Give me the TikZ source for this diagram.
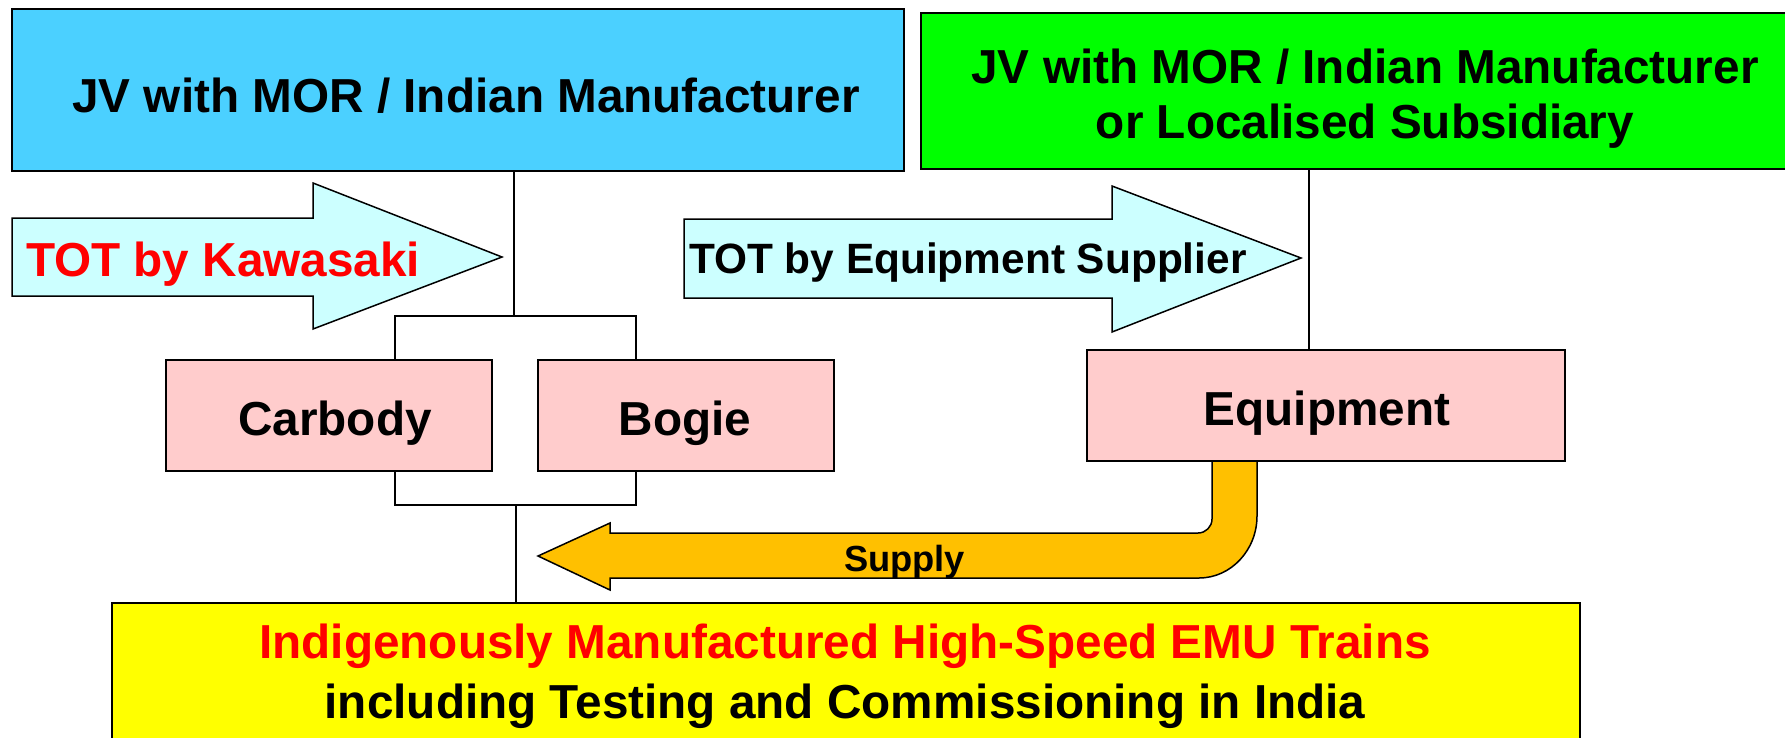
\documentclass[tikz,border=0pt]{standalone}
\usepackage{fontspec}
\setmainfont{Liberation Sans}
\definecolor{jvblue}{RGB}{75,208,255}
\definecolor{jvgreen}{RGB}{0,255,0}
\definecolor{arrowcyan}{RGB}{204,255,255}
\definecolor{partpink}{RGB}{255,204,204}
\definecolor{trainyellow}{RGB}{255,255,0}
\definecolor{supplyorange}{RGB}{255,192,0}
\definecolor{textred}{RGB}{255,0,0}
\begin{document}
\begin{tikzpicture}[x=1pt,y=-1pt,
  box/.style={draw=black, line width=1.8pt, inner sep=0pt, outer sep=0pt, anchor=north west},
  lbl/.style={inner sep=0pt, outer sep=0pt, anchor=base, font=\bfseries\fontsize{47.7}{57}\selectfont},
  conn/.style={line width=1.5pt},
  bracket/.style={line width=2.2pt},
  blockarrow/.style={draw=black, line width=1.5pt, line join=miter}]
\useasboundingbox (0,0) rectangle (1785,737);
\clip (0,0) rectangle (1785,737);
\fill[white] (0,0) rectangle (1785,737);
% boxes
\node[box, fill=jvblue, minimum width=892pt, minimum height=162pt] (jvA) at (12,9) {};
\node[box, fill=jvgreen, minimum width=888pt, minimum height=156pt] (jvB) at (921,13) {};
\node[box, fill=partpink, minimum width=326pt, minimum height=111pt] (carbody) at (166,360) {};
\node[box, fill=partpink, minimum width=296pt, minimum height=111pt] (bogie) at (538,360) {};
\node[box, fill=partpink, minimum width=478pt, minimum height=111pt] (equip) at (1087,350) {};
\node[box, fill=trainyellow, minimum width=1468pt, minimum height=160pt] (train) at (112,603) {};
% block arrows
\draw[blockarrow, fill=arrowcyan] (12,218) -- (313,218) -- (313,183) -- (502,257) -- (313,329) -- (313,296) -- (12,296) -- cycle;
\draw[blockarrow, fill=arrowcyan] (684,219) -- (1112,219) -- (1112,186) -- (1301,258) -- (1112,332) -- (1112,298) -- (684,298) -- cycle;
\draw[blockarrow, fill=supplyorange] (538,556) -- (610,523) -- (610,533) -- (1198,533)
  .. controls (1205.7,533) and (1212,526.7) .. (1212,519) -- (1212,461) -- (1257,461) -- (1257,516)
  .. controls (1257,550) and (1231,578) .. (1199,578) -- (610,578) -- (610,590) -- cycle;
% connectors
\coordinate (jA) at (514,316);
\coordinate (bL) at (395,316);
\coordinate (bR) at (636,316);
\coordinate (dL) at (395,505);
\coordinate (dR) at (636,505);
\coordinate (dM) at (516,505);
\coordinate (eq) at (1309,300);
\draw[conn] (jvA.south -| jA) -- (jA);
\draw[bracket] (carbody.north -| bL) -- (bL) -- (bR) -- (bogie.north -| bR);
\draw[bracket] (carbody.south -| dL) -- (dL) -- (dR) -- (bogie.south -| dR);
\draw[conn] (dM) -- (train.north -| dM);
\draw[conn] (jvB.south -| eq) -- (equip.north -| eq);
% texts
\node[lbl] (jvAtext) at (466,112) {JV with MOR / Indian Manufacturer};
\node[lbl] (jvBtext1) at (1365,83) {JV with MOR / Indian Manufacturer};
\node[lbl] (jvBtext2) at (1365,138) {or Localised Subsidiary};
\node[lbl, anchor=base west, text=textred] (totK) at (26,276) {TOT by Kawasaki};
\node[lbl, anchor=base west, font=\bfseries\fontsize{42.4}{50}\selectfont] (totE) at (689,273) {TOT by Equipment Supplier};
\node[lbl] (carbodyT) at (335,435) {Carbody};
\node[lbl] (bogieT) at (685,435) {Bogie};
\node[lbl] (equipT) at (1327,425) {Equipment};
\node[lbl, font=\bfseries\fontsize{36.3}{44}\selectfont] (supplyT) at (904.5,571) {Supply};
\node[lbl, text=textred] (trainT1) at (845,658) {Indigenously Manufactured High-Speed EMU Trains};
\node[lbl] (trainT2) at (845,718) {including Testing and Commissioning in India};
\end{tikzpicture}
\end{document}
